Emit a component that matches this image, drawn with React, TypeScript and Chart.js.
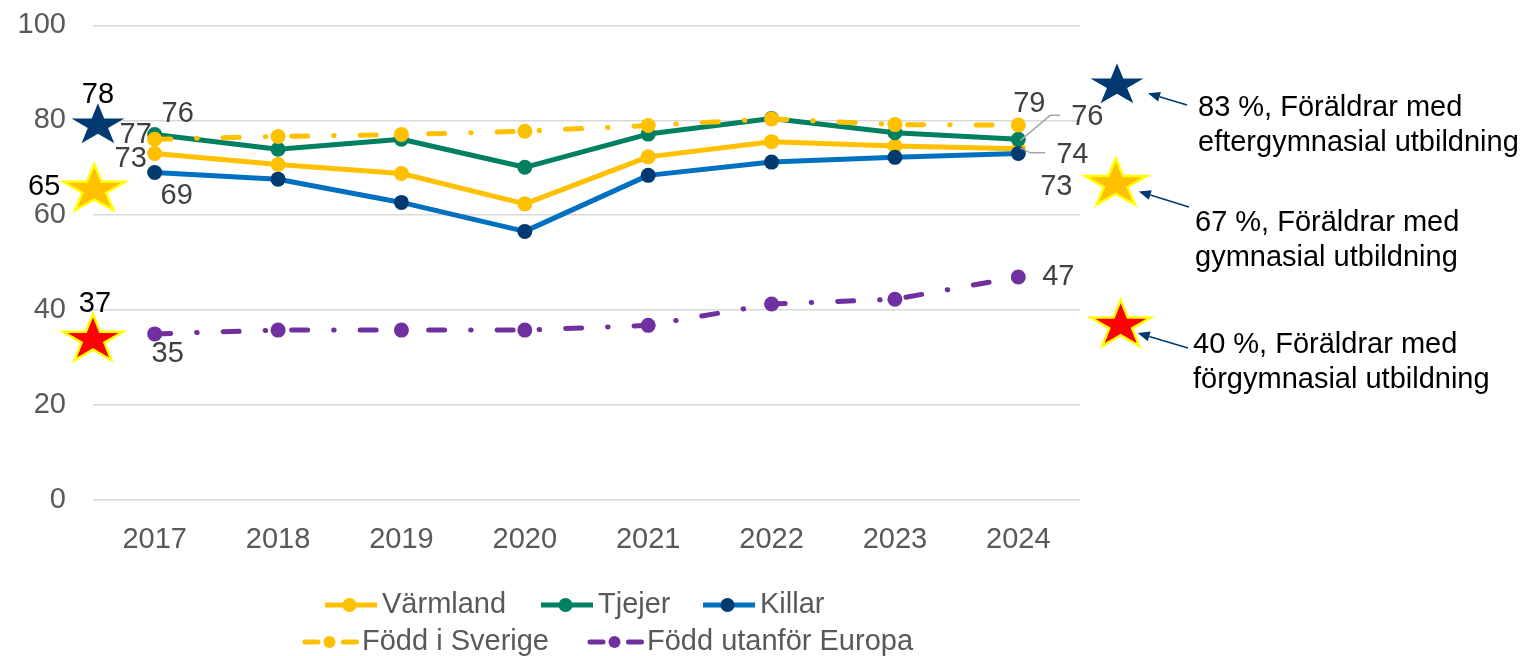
import React, { useEffect, useRef } from 'react';
import { Chart, registerables } from 'chart.js';

Chart.register(...registerables);

// ---------------- data ----------------
const years = ['2017', '2018', '2019', '2020', '2021', '2022', '2023', '2024'];
const varmland = [73, 70.7, 68.8, 62.4, 72.3, 75.5, 74.6, 74];
const tjejer = [77, 73.9, 76, 70.1, 77.1, 80.4, 77.4, 76];
const killar = [69, 67.6, 62.7, 56.6, 68.4, 71.2, 72.2, 73];
const foddSverige = [76, 76.6, 77, 77.7, 78.9, 80.3, 79.1, 79];
const foddUtanforEuropa = [35, 35.8, 35.8, 35.8, 36.8, 41.3, 42.3, 47];
const yTicks = [0, 20, 40, 60, 80, 100];

// parents' education level (stars): values for 2017 (left) and 2024 (right)
const educationNames = ['eftergymnasial utbildning', 'gymnasial utbildning', 'förgymnasial utbildning'];
const starValues2017 = [78, 65, 37];
const starValues2024 = [83, 67, 40];
// placement of the star shapes (axis units / category index)
const starLevelLeft = [79.4, 65.9, 34.3];
const starLevelRight = [87.8, 67.1, 37.3];
const starIndexLeft = [-0.46, -0.49, -0.5];
const starIndexRight = [7.8, 7.79, 7.83];

// ---------------- styles ----------------
const FONT = "'Liberation Sans', Arial, sans-serif";
const GOLD = '#FFC000';
const GREEN = '#008060';
const BLUE = '#0070C0';
const NAVY = '#003A70';
const PURPLE = '#7030A0';
const LABEL_COLOR = '#404040';
const TICK_COLOR = '#595959';

const starStyles = [
  { fill: NAVY, stroke: null as string | null, w: 53, h: 40 },
  { fill: GOLD, stroke: '#FFFF00', w: 62, h: 46 },
  { fill: '#FF0000', stroke: '#FFFF00', w: 60, h: 46 },
];
const leftStarLabelOffset = [
  { dx: 0, dy: -28 },
  { dx: -50, dy: 0 },
  { dx: 2, dy: -33 },
];
const arrowStyle = [
  { tipDx: 31, tipDy: 10, tail: [1187, 105] },
  { tipDx: 23, tipDy: 10, tail: [1189, 207] },
  { tipDx: 17, tipDy: 10, tail: [1188, 348] },
];
const noteStyle = [
  { x: 1198, y: 116 },
  { x: 1195, y: 231 },
  { x: 1193, y: 353 },
];

// data labels: dataset index, point index, offsets, optional leader line
const labelSpecs = [
  { ds: 3, i: 0, dx: 23, dy: -25 },
  { ds: 1, i: 0, dx: -19, dy: 0 },
  { ds: 0, i: 0, dx: -24, dy: 5 },
  { ds: 2, i: 0, dx: 22, dy: 23 },
  { ds: 4, i: 0, dx: 13, dy: 20 },
  { ds: 3, i: 7, dx: 11, dy: -21 },
  { ds: 1, i: 7, dx: 69, dy: -22, leader: [[2, 1], [32, -24], [42, -24]] },
  { ds: 0, i: 7, dx: 54, dy: 6, leader: [[2, -1], [12, 4], [27, 4]] },
  { ds: 2, i: 7, dx: 38, dy: 33 },
  { ds: 4, i: 7, dx: 40, dy: 0 },
];

const legendRows = [
  { y: 605, items: [{ ds: 0, x: 322 }, { ds: 1, x: 538 }, { ds: 2, x: 700 }] },
  { y: 642, items: [{ ds: 3, x: 302 }, { ds: 4, x: 587 }] },
];

function drawStar(ctx: CanvasRenderingContext2D, cx: number, cy: number, w: number, h: number, fill: string, stroke: string | null) {
  const inner = 0.381966;
  const pts: [number, number][] = [];
  for (let k = 0; k < 10; k++) {
    const r = k % 2 === 0 ? 1 : inner;
    const a = -Math.PI / 2 + (k * Math.PI) / 5;
    pts.push([r * Math.cos(a), r * Math.sin(a)]);
  }
  const sx = Math.sin((72 * Math.PI) / 180);
  const bottom = Math.cos((36 * Math.PI) / 180);
  ctx.save();
  ctx.beginPath();
  pts.forEach(([x, y], k) => {
    const px = cx + (x / sx) * (w / 2);
    const py = cy + ((y + 1) / (1 + bottom) - 0.5) * h;
    if (k === 0) ctx.moveTo(px, py);
    else ctx.lineTo(px, py);
  });
  ctx.closePath();
  ctx.fillStyle = fill;
  ctx.fill();
  if (stroke) {
    ctx.lineWidth = 2.5;
    ctx.lineJoin = 'miter';
    ctx.strokeStyle = stroke;
    ctx.stroke();
  }
  ctx.restore();
}

function drawArrow(ctx: CanvasRenderingContext2D, x1: number, y1: number, x2: number, y2: number) {
  const ang = Math.atan2(y2 - y1, x2 - x1);
  const len = 12;
  const half = 5;
  const bx = x2 - len * Math.cos(ang);
  const by = y2 - len * Math.sin(ang);
  ctx.save();
  ctx.strokeStyle = NAVY;
  ctx.fillStyle = NAVY;
  ctx.lineWidth = 1.5;
  ctx.beginPath();
  ctx.moveTo(x1, y1);
  ctx.lineTo(bx, by);
  ctx.stroke();
  ctx.beginPath();
  ctx.moveTo(x2, y2);
  ctx.lineTo(bx + half * Math.sin(ang), by - half * Math.cos(ang));
  ctx.lineTo(bx - half * Math.sin(ang), by + half * Math.cos(ang));
  ctx.closePath();
  ctx.fill();
  ctx.restore();
}

const extrasPlugin = {
  id: 'extras',
  afterDatasetsDraw(chart: any) {
    const ctx: CanvasRenderingContext2D = chart.ctx;
    ctx.save();
    ctx.font = `29px ${FONT}`;
    ctx.textAlign = 'center';
    ctx.textBaseline = 'middle';
    labelSpecs.forEach((s: any) => {
      const meta = chart.getDatasetMeta(s.ds);
      const pt = meta.data[s.i];
      const val = chart.data.datasets[s.ds].data[s.i] as number;
      if (s.leader) {
        ctx.save();
        ctx.strokeStyle = '#A6A6A6';
        ctx.lineWidth = 1.5;
        ctx.beginPath();
        s.leader.forEach(([lx, ly]: number[], k: number) => {
          if (k === 0) ctx.moveTo(pt.x + lx, pt.y + ly);
          else ctx.lineTo(pt.x + lx, pt.y + ly);
        });
        ctx.stroke();
        ctx.restore();
      }
      ctx.fillStyle = LABEL_COLOR;
      ctx.fillText(String(Math.round(val)), pt.x + s.dx, pt.y + s.dy);
    });
    ctx.restore();
  },
  afterDraw(chart: any) {
    const ctx: CanvasRenderingContext2D = chart.ctx;
    const xs = chart.scales.x;
    const ys = chart.scales.y;
    ctx.save();
    ctx.font = `29px ${FONT}`;
    starValues2017.forEach((v, k) => {
      const cx = xs.getPixelForValue(starIndexLeft[k]);
      const cy = ys.getPixelForValue(starLevelLeft[k]);
      const st = starStyles[k];
      drawStar(ctx, cx, cy, st.w, st.h, st.fill, st.stroke);
      ctx.fillStyle = '#000000';
      ctx.textAlign = 'center';
      ctx.textBaseline = 'middle';
      ctx.fillText(String(v), cx + leftStarLabelOffset[k].dx, cy + leftStarLabelOffset[k].dy);
    });
    starValues2024.forEach((v, k) => {
      const cx = xs.getPixelForValue(starIndexRight[k]);
      const cy = ys.getPixelForValue(starLevelRight[k]);
      const st = starStyles[k];
      drawStar(ctx, cx, cy, st.w, st.h, st.fill, st.stroke);
      const a = arrowStyle[k];
      drawArrow(ctx, a.tail[0], a.tail[1], cx + a.tipDx, cy + a.tipDy);
      ctx.fillStyle = '#000000';
      ctx.textAlign = 'left';
      ctx.textBaseline = 'alphabetic';
      const n = noteStyle[k];
      ctx.fillText(`${v} %, Föräldrar med`, n.x, n.y);
      ctx.fillText(educationNames[k], n.x, n.y + 35);
    });
    legendRows.forEach((row) => {
      row.items.forEach((it) => {
        const ds: any = chart.data.datasets[it.ds];
        const x0 = it.x;
        const symW = 55;
        ctx.save();
        ctx.strokeStyle = ds.borderColor;
        ctx.lineWidth = 5;
        ctx.lineCap = ds.borderDash ? 'round' : 'butt';
        if (ds.borderDash) ctx.setLineDash([13, 14, 0.5, 11]);
        ctx.beginPath();
        ctx.moveTo(x0 + 3, row.y);
        ctx.lineTo(x0 + symW, row.y);
        ctx.stroke();
        ctx.setLineDash([]);
        ctx.fillStyle = ds.pointBackgroundColor;
        ctx.beginPath();
        ctx.arc(x0 + symW / 2, row.y, ds.borderDash ? 6 : 7, 0, Math.PI * 2);
        ctx.fill();
        ctx.restore();
        ctx.fillStyle = TICK_COLOR;
        ctx.textAlign = 'left';
        ctx.textBaseline = 'middle';
        ctx.fillText(ds.label, x0 + symW + 5, row.y);
      });
    });
    ctx.restore();
  },
};

export default function App() {
  const ref = useRef<HTMLCanvasElement>(null);
  useEffect(() => {
    document.body.style.margin = '0';
    const canvas = ref.current!;
    const line = (label: string, data: number[], color: string, pointColor: string, order: number, dash?: number[]) => ({
      label,
      data,
      borderColor: color,
      backgroundColor: pointColor,
      pointBackgroundColor: pointColor,
      pointBorderColor: pointColor,
      pointBorderWidth: 0,
      pointRadius: 7.5,
      borderWidth: 5,
      borderDash: dash,
      borderCapStyle: dash ? 'round' : 'butt',
      borderJoinStyle: 'round',
      tension: 0,
      fill: false,
      order,
    });
    const chart = new Chart(canvas, {
      type: 'line',
      data: {
        labels: years,
        datasets: [
          line('Värmland', varmland, GOLD, GOLD, 5),
          line('Tjejer', tjejer, GREEN, GREEN, 4),
          line('Killar', killar, BLUE, NAVY, 3),
          line('Född i Sverige', foddSverige, GOLD, GOLD, 2, [16, 26, 0.5, 26]),
          line('Född utanför Europa', foddUtanforEuropa, PURPLE, PURPLE, 1, [16, 26, 0.5, 26]),
        ] as any,
      },
      options: {
        responsive: false,
        animation: false,
        devicePixelRatio: 1,
        layout: { padding: { left: 8, right: 447, top: 0, bottom: 0 } },
        plugins: { legend: { display: false }, tooltip: { enabled: false } },
        scales: {
          x: {
            offset: true,
            grid: { display: false, drawTicks: false, offset: true },
            border: { display: false },
            ticks: { color: TICK_COLOR, padding: 23, font: { family: FONT, size: 29 } },
            afterFit: (s: any) => {
              s.height = 156;
            },
          },
          y: {
            min: 0,
            max: 100,
            grid: { color: '#D9D9D9', lineWidth: 1.5, drawTicks: true, tickLength: 19, tickColor: 'rgba(0,0,0,0)' },
            border: { display: false },
            ticks: { color: TICK_COLOR, padding: 8, font: { family: FONT, size: 29 } },
            afterBuildTicks: (s: any) => {
              s.ticks = yTicks.map((v) => ({ value: v }));
            },
            afterFit: (s: any) => {
              s.width = 85;
            },
          },
        },
      } as any,
      plugins: [extrasPlugin],
    });
    return () => chart.destroy();
  }, []);
  return (
    <div style={{ width: 1527, height: 656 }}>
      <canvas ref={ref} width={1527} height={656} style={{ display: 'block' }} />
    </div>
  );
}
